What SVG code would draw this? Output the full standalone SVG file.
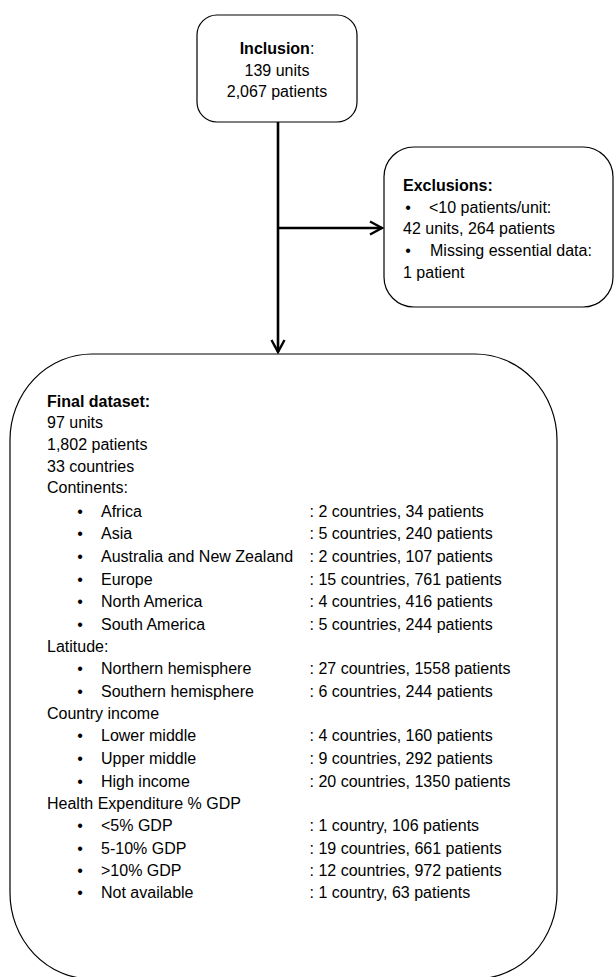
<svg xmlns="http://www.w3.org/2000/svg" width="614" height="977" viewBox="0 0 614 977">
<style>
text{font-family:"Liberation Sans",Arial,sans-serif;font-size:16px;fill:#000}
.b{font-weight:bold}
.box{fill:#fff;stroke:#000;stroke-width:1.2}
.conn{fill:none;stroke:#000;stroke-width:2.6}
</style>
<defs>
<marker id="arr" viewBox="0 0 16 16" refX="14" refY="8" markerWidth="16" markerHeight="16" markerUnits="userSpaceOnUse" orient="auto">
<path d="M2,1.5 L14,8 L2,14.5" fill="none" stroke="#000" stroke-width="2.4"/>
</marker>
</defs>
<rect width="614" height="977" fill="#fff"/>
<g id="connectors">
<line class="conn" x1="278" y1="122" x2="278" y2="352" marker-end="url(#arr)"/>
<line class="conn" x1="278" y1="228" x2="382" y2="228" marker-end="url(#arr)"/>
</g>
<g id="inclusion">
<rect class="box" x="197" y="15" width="160" height="107" rx="20"/>
<text x="277" y="54" text-anchor="middle"><tspan class="b">Inclusion</tspan>:</text>
<text x="277" y="76" text-anchor="middle">139 units</text>
<text x="277" y="97" text-anchor="middle">2,067 patients</text>
</g>
<g id="exclusions">
<rect class="box" x="384" y="147" width="229" height="160" rx="30"/>
<text x="403" y="191" class="b">Exclusions:</text>
<text x="408" y="213" text-anchor="middle">•</text>
<text x="429" y="213">&lt;10 patients/unit:</text>
<text x="403" y="234">42 units, 264 patients</text>
<text x="408" y="256" text-anchor="middle">•</text>
<text x="430" y="256">Missing essential data:</text>
<text x="403" y="278">1 patient</text>
</g>
<g id="final-dataset">
<path class="box" d="M92,354 H475 A82,86 0 0 1 557,440 V893 A82,86 0 0 1 475,979 H92 A82,86 0 0 1 10,893 V440 A82,86 0 0 1 92,354 Z"/>
<text x="47" y="407" class="b">Final dataset:</text>
<text x="47" y="428">97 units</text>
<text x="47" y="450">1,802 patients</text>
<text x="47" y="472">33 countries</text>
<text x="47" y="493">Continents:</text>
<g text-anchor="middle">
<text x="80" y="517">•</text>
<text x="80" y="539">•</text>
<text x="80" y="562">•</text>
<text x="80" y="585">•</text>
<text x="80" y="607">•</text>
<text x="80" y="630">•</text>
<text x="80" y="674">•</text>
<text x="80" y="697">•</text>
<text x="80" y="741">•</text>
<text x="80" y="764">•</text>
<text x="80" y="787">•</text>
<text x="80" y="831">•</text>
<text x="80" y="854">•</text>
<text x="80" y="876">•</text>
<text x="80" y="898">•</text>
</g>
<text x="101" y="517">Africa</text>
<text x="309.5" y="517">: 2 countries, 34 patients</text>
<text x="101" y="539">Asia</text>
<text x="309.5" y="539">: 5 countries, 240 patients</text>
<text x="101" y="562">Australia and New Zealand</text>
<text x="309.5" y="562">: 2 countries, 107 patients</text>
<text x="101" y="585">Europe</text>
<text x="309.5" y="585">: 15 countries, 761 patients</text>
<text x="101" y="607">North America</text>
<text x="309.5" y="607">: 4 countries, 416 patients</text>
<text x="101" y="630">South America</text>
<text x="309.5" y="630">: 5 countries, 244 patients</text>
<text x="47" y="652">Latitude:</text>
<text x="101" y="674">Northern hemisphere</text>
<text x="309.5" y="674">: 27 countries, 1558 patients</text>
<text x="101" y="697">Southern hemisphere</text>
<text x="309.5" y="697">: 6 countries, 244 patients</text>
<text x="47" y="719">Country income</text>
<text x="101" y="741">Lower middle</text>
<text x="309.5" y="741">: 4 countries, 160 patients</text>
<text x="101" y="764">Upper middle</text>
<text x="309.5" y="764">: 9 countries, 292 patients</text>
<text x="101" y="787">High income</text>
<text x="309.5" y="787">: 20 countries, 1350 patients</text>
<text x="47" y="809">Health Expenditure % GDP</text>
<text x="101" y="831">&lt;5% GDP</text>
<text x="309.5" y="831">: 1 country, 106 patients</text>
<text x="101" y="854">5-10% GDP</text>
<text x="309.5" y="854">: 19 countries, 661 patients</text>
<text x="101" y="876">&gt;10% GDP</text>
<text x="309.5" y="876">: 12 countries, 972 patients</text>
<text x="101" y="898">Not available</text>
<text x="309.5" y="898">: 1 country, 63 patients</text>
</g>
</svg>
